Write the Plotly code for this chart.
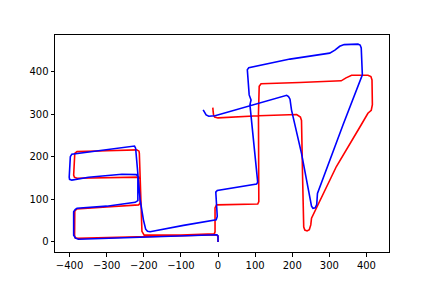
import plotly.graph_objects as go

# Ground truth path (red)
red_x = [0, 0, -5, -100, -210, -300, -378, -385, -386.5, -386, -381, -300, -214, -210, -210, -214,
         -300, -380, -387, -389, -386, -380, -300, -219, -213, -212, -205, -199, -100, -15, -10,
         -8, -8, -4, 100, 107, 110, 109, 109, 111, 116, 220, 332, 345, 360, 404, 412, 415, 416,
         413, 404, 386, 319, 252, 250, 246, 240, 234, 231, 228, 225, 222, 216, 212, 109, 0,
         -9, -12, -13, -14]
red_y = [0, 14, 17, 15, 13, 10, 8.5, 10, 16, 72, 77.5, 82, 87, 91, 148, 152,
         151, 149.6, 152, 157, 208, 212, 214, 216, 213, 208, 25, 16, 16, 18, 19,
         24, 80, 87, 88, 89, 95, 200, 300, 365, 371, 374, 378, 385, 391, 391, 388, 380, 322,
         309, 302, 275, 177, 56, 40, 29, 26, 28, 35, 150, 285, 293, 297, 299, 296, 291,
         293, 298, 305, 315]

# Estimated path (blue)
blue_x = [0, 0, -3, -100, -200, -300, -376, -384, -389, -389, -385, -380, -300, -223, -216,
          -216, -220, -259, -349, -394, -400, -401, -398, -394, -232, -225, -222, -216, -210,
          -201, -195, -190, -183, -93, -5, -2, -3, -6, -6, -2, 104, 107, 86, 89, 84, 79, 83, 194,
          301, 315, 328, 340, 377, 383, 386, 389, 337, 268, 266, 262, 256, 252, 225, 198, 194,
          190, 185, -8, -25, -32, -36, -40]
blue_y = [0, 14, 17, 14.5, 12, 9, 6.5, 9, 16, 71, 76, 79, 84, 93, 97,
          154, 158, 159, 152, 145, 147, 152, 200, 206, 225.5, 225, 220, 157, 100,
          52, 30, 25, 24, 39, 52, 60, 85, 110, 117, 121, 136, 140, 322, 333, 345, 404, 409, 429,
          443, 450, 459, 463, 464, 462, 455, 392, 275, 114, 88, 80, 79, 84, 208, 310, 335,
          341, 344, 296, 295, 298, 304, 310]

fig = go.Figure()
fig.add_trace(go.Scatter(x=red_x, y=red_y, mode="lines",
                         line=dict(color="#ff0000", width=1.6), showlegend=False))
fig.add_trace(go.Scatter(x=blue_x, y=blue_y, mode="lines",
                         line=dict(color="#0000ff", width=1.6), showlegend=False))

axis_common = dict(showgrid=False, zeroline=False, showline=True, mirror=True,
                   linecolor="black", linewidth=1, ticks="outside", ticklen=3.5,
                   tickwidth=1, tickcolor="black",
                   tickfont=dict(family="DejaVu Sans", size=10, color="black"))

fig.update_layout(
    width=432, height=288,
    margin=dict(l=55, r=43, t=35, b=36),
    plot_bgcolor="white", paper_bgcolor="white",
    xaxis=dict(range=[-439.3, 460.8], tickvals=[-400, -300, -200, -100, 0, 100, 200, 300, 400],
               **axis_common),
    yaxis=dict(range=[-23.5, 485.5], tickvals=[0, 100, 200, 300, 400], **axis_common),
)
fig.write_html("out.html")
